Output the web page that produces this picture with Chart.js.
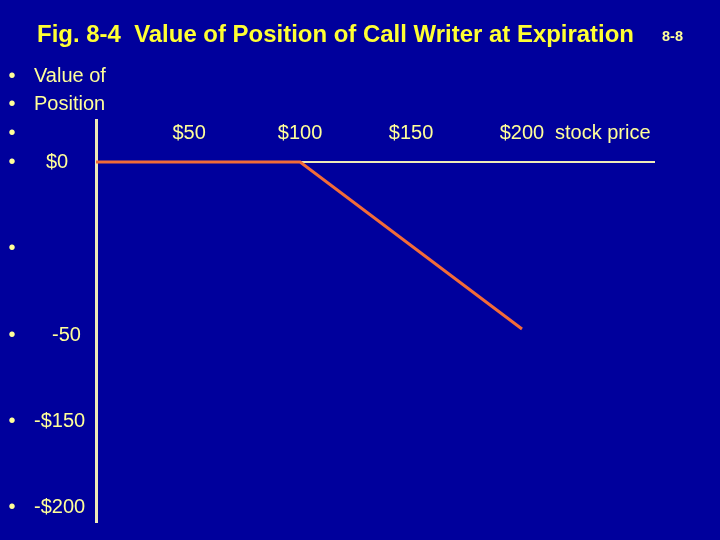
<!DOCTYPE html>
<html>
<head>
<meta charset="utf-8">
<script src="https://cdn.jsdelivr.net/npm/chart.js@4/dist/chart.umd.min.js"></script>
<style>
  html, body { margin: 0; padding: 0; background: #00009C; }
  #wrap { width: 720px; height: 540px; position: relative; }
</style>
</head>
<body>
<div id="wrap"><canvas id="c" width="720" height="540"></canvas></div>
<script>
// ---- data ----
const stockPrices = [8, 100, 200];
const positionValues = [0, 0, -100];
const xTickValues = [50, 100, 150, 200];
const xTickLabels = ['$50', '$100', '$150', '$200'];
const xAxisName = 'stock price';
const bulletLines = ['Value of', 'Position', '', '$0', '', '-50', '-$150', '-$200'];
const titleText = 'Fig. 8-4  Value of Position of Call Writer at Expiration';
const slideNumber = '8-8';

// ---- styles / layout ----
const BG = '#00009C';
const TEXT = '#FFFF99';
const TITLE = '#FFFF33';
const AXIS = '#EEEAB8';
const LINE = '#F26B38';
const FONT = '"Liberation Sans", Arial, sans-serif';
const bulletY = [76, 104, 133, 162, 248, 335, 421, 507];
const bulletTextX = [34, 34, 34, 46, 34, 52, 34, 34];

const slidePlugin = {
  id: 'slide',
  beforeDraw(chart) {
    const ctx = chart.ctx;
    ctx.save();
    ctx.fillStyle = BG;
    ctx.fillRect(0, 0, chart.width, chart.height);
    ctx.restore();
  },
  afterDraw(chart) {
    const ctx = chart.ctx;
    ctx.save();
    // title (condensed to fit)
    ctx.fillStyle = TITLE;
    ctx.font = 'bold 24px ' + FONT;
    ctx.textBaseline = 'alphabetic';
    ctx.textAlign = 'left';
    const tw = ctx.measureText(titleText).width;
    ctx.save();
    ctx.translate(37, 41.5);
    ctx.scale(597 / tw, 1);
    ctx.fillText(titleText, 0, 0);
    ctx.restore();
    // slide number
    ctx.fillStyle = TEXT;
    ctx.font = 'bold 14px ' + FONT;
    const sw = ctx.measureText(slideNumber).width;
    ctx.save();
    ctx.translate(662, 41);
    ctx.scale(21 / sw, 1);
    ctx.fillText(slideNumber, 0, 0);
    ctx.restore();
    // bullets
    ctx.textBaseline = 'middle';
    ctx.fillStyle = TEXT;
    ctx.font = '20px ' + FONT;
    bulletLines.forEach((t, i) => {
      const y = bulletY[i];
      ctx.textAlign = 'center';
      ctx.fillText('\u2022', 12, y);
      if (t) {
        ctx.textAlign = 'left';
        ctx.fillText(t, bulletTextX[i], y);
      }
    });
    // axis name after last tick
    const xs = chart.scales.x;
    const ys = chart.scales.y;
    ctx.textAlign = 'left';
    ctx.fillText(xAxisName, xs.getPixelForValue(xTickValues[xTickValues.length - 1]) + 33, ys.getPixelForValue(0) - 29);
    ctx.restore();
  }
};

new Chart(document.getElementById('c'), {
  type: 'line',
  data: {
    datasets: [{
      data: stockPrices.map((x, i) => ({ x: x, y: positionValues[i] })),
      borderColor: LINE,
      borderWidth: 3,
      pointRadius: 0,
      tension: 0,
      fill: false
    }]
  },
  options: {
    responsive: false,
    animation: false,
    devicePixelRatio: 1,
    layout: { padding: { left: 96, right: 66, top: 120, bottom: 18 } },
    plugins: { legend: { display: false }, tooltip: { enabled: false } },
    scales: {
      x: {
        type: 'linear',
        position: { y: 0 },
        min: 8,
        max: 259.5,
        afterBuildTicks: (scale) => { scale.ticks = xTickValues.map(v => ({ value: v })); },
        grid: { display: true, color: 'transparent', drawTicks: false },
        border: { display: true, color: AXIS, width: 2 },
        ticks: {
          autoSkip: false,
          maxRotation: 0,
          padding: -41,
          color: TEXT,
          font: { family: FONT, size: 20 },
          callback: (v, i) => xTickLabels[i]
        }
      },
      y: {
        type: 'linear',
        position: 'left',
        min: -215.6,
        max: 25.2,
        grid: { display: true, color: 'transparent', drawTicks: false },
        border: { display: true, color: AXIS, width: 3 },
        ticks: { display: false }
      }
    }
  },
  plugins: [slidePlugin]
});
</script>
</body>
</html>
